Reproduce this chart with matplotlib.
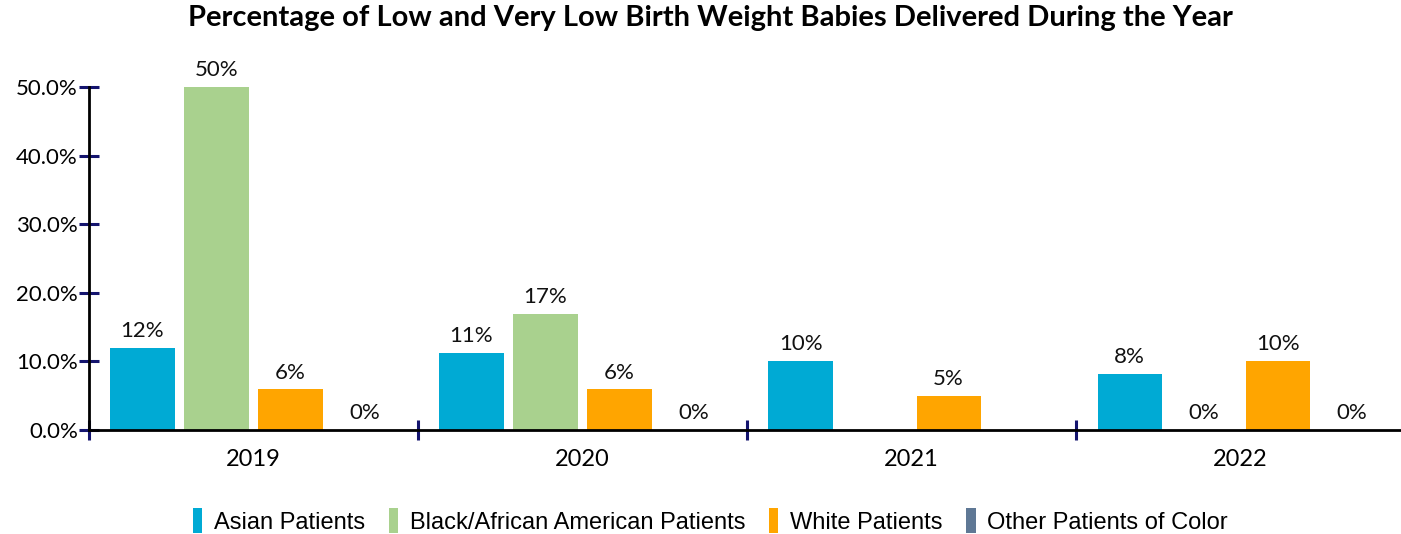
import numpy as np
import matplotlib
matplotlib.use("Agg")
import matplotlib.pyplot as plt

years = ["2019", "2020", "2021", "2022"]
series = ["Asian Patients", "Black/African American Patients", "White Patients", "Other Patients of Color"]
asian = [11.9, 11.2, 10.1, 8.1]
black = [50.0, 16.9, np.nan, 0.0]
white = [5.9, 5.9, 5.0, 10.1]
other = [0.0, 0.0, np.nan, 0.0]
colors = ["#00AAD4", "#A9D18E", "#FFA500", "#5F7895"]

NAVY = "#14146E"
plt.rcParams["font.family"] = ["Lato", "DejaVu Sans"]

fig = plt.figure(figsize=(14.01, 5.34), dpi=100)
ax = fig.add_axes([0.0635, 0.195, 0.9395, 0.642])

x = np.arange(len(years))
step, width = 0.225, 0.195
for i, (vals, name, col) in enumerate(zip([asian, black, white, other], series, colors)):
    pos = x + (i - 1.5) * step
    ax.bar(pos, vals, width, color=col, label=name, zorder=2)
    for p, v in zip(pos, vals):
        if np.isnan(v):
            continue
        ax.text(p, v + 1.0, f"{v:.0f}%", ha="center", va="bottom", fontsize=16,
                color="#111111", clip_on=False)

ax.set_xlim(-0.5, 3.5)
ax.set_ylim(0, 50)
ax.set_yticks(np.arange(0, 51, 10))
ax.set_yticklabels([f"{t:.1f}%" for t in np.arange(0, 51, 10)], fontsize=16)
ax.set_xticks(np.arange(-0.5, 3.0, 1.0))
ax.set_xticklabels([])
ax.set_xticks(x, minor=True)
ax.set_xticklabels(years, minor=True, fontsize=17)
ax.tick_params(axis="x", which="minor", length=0, pad=14)
ax.tick_params(axis="both", which="major", direction="inout", length=14, width=2.2, color=NAVY)
ax.tick_params(axis="y", pad=1)
for s in ["top", "right"]:
    ax.spines[s].set_visible(False)
ax.spines["left"].set_linewidth(2)
ax.spines["bottom"].set_linewidth(2)

fig.suptitle("Percentage of Low and Very Low Birth Weight Babies Delivered During the Year",
             x=0.507, y=0.99, fontsize=21, fontweight="bold")

fig.legend(loc="center", bbox_to_anchor=(0.507, 0.025), ncol=4, frameon=False,
           handlelength=0.4, handleheight=1.3, handletextpad=0.5, columnspacing=1.0,
           prop={"family": "Liberation Sans", "size": 17})

fig.savefig("out.png", dpi=100)
